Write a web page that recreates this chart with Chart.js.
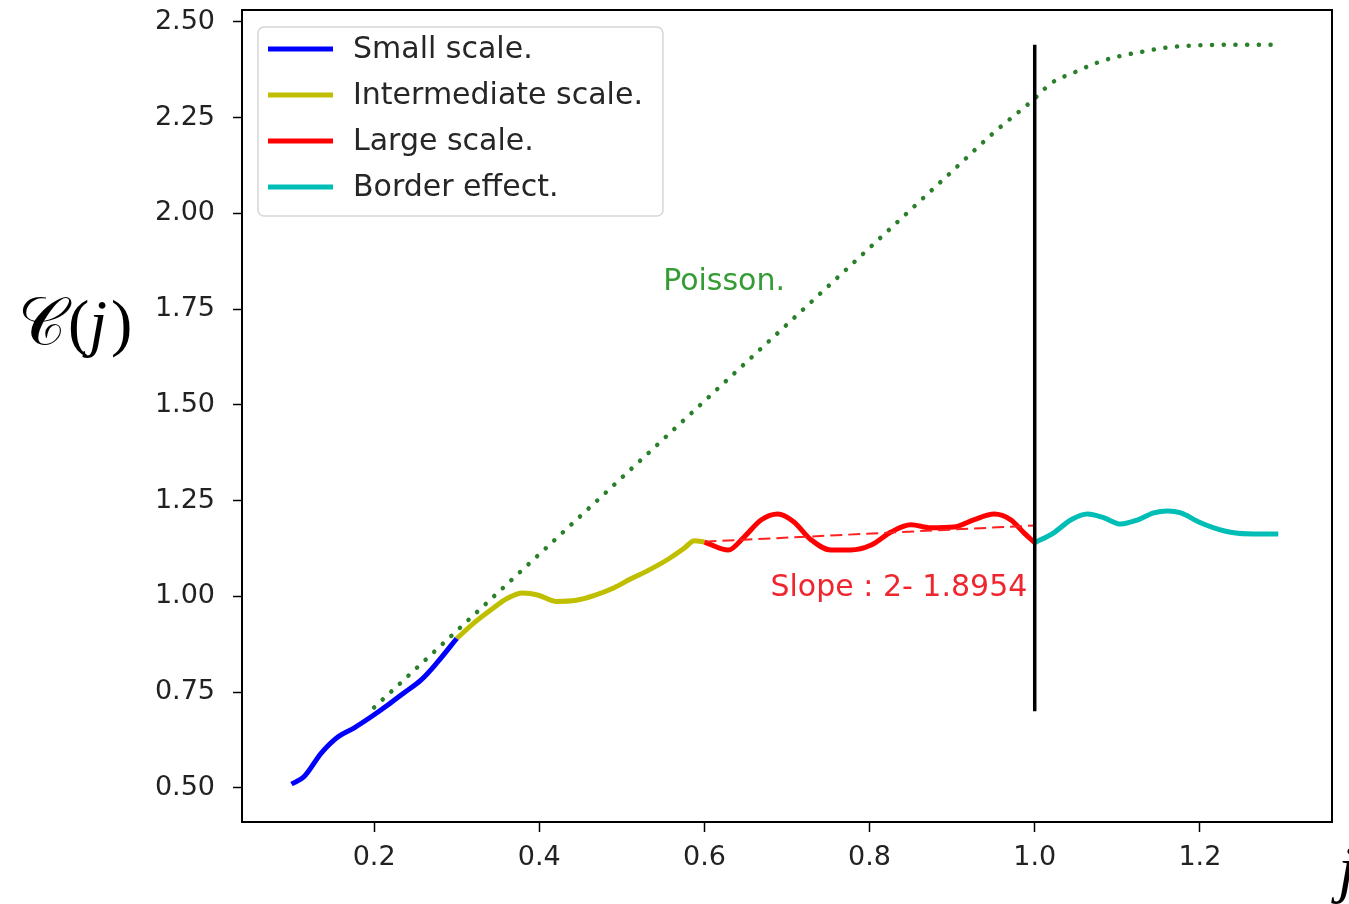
<!DOCTYPE html>
<html>
<head>
<meta charset="utf-8">
<title>C(j)</title>
<script src="https://cdn.jsdelivr.net/npm/chart.js@4.4.1/dist/chart.umd.min.js"></script>
<style>
  html, body { margin: 0; padding: 0; background: #fff; }
  canvas { display: block; }
</style>
</head>
<body>
<canvas id="cj" width="1349" height="904"></canvas>
<script>
// values
const smallX = [0.100, 0.115, 0.136, 0.156, 0.176, 0.196, 0.217, 0.236, 0.257, 0.277, 0.300];
const smallY = [0.510, 0.529, 0.591, 0.633, 0.657, 0.685, 0.717, 0.748, 0.782, 0.829, 0.890];

const interX = [0.300, 0.321, 0.342, 0.362, 0.380, 0.399, 0.420, 0.445, 0.466, 0.490, 0.511, 0.532, 0.556, 0.575, 0.588, 0.600];
const interY = [0.890, 0.931, 0.966, 0.996, 1.009, 1.003, 0.987, 0.990, 1.002, 1.022, 1.046, 1.068, 1.097, 1.125, 1.145, 1.142];

const largeX = [0.600, 0.629, 0.648, 0.669, 0.689, 0.708, 0.729, 0.753, 0.777, 0.802, 0.826, 0.850, 0.874, 0.902, 0.926, 0.951, 0.971, 0.987, 1.000];
const largeY = [1.142, 1.121, 1.155, 1.200, 1.215, 1.195, 1.148, 1.121, 1.121, 1.134, 1.168, 1.187, 1.179, 1.181, 1.200, 1.215, 1.200, 1.166, 1.140];

const borderX = [1.000, 1.023, 1.044, 1.064, 1.084, 1.104, 1.125, 1.144, 1.161, 1.177, 1.198, 1.217, 1.241, 1.265, 1.295];
const borderY = [1.140, 1.166, 1.200, 1.215, 1.205, 1.189, 1.200, 1.218, 1.223, 1.218, 1.195, 1.179, 1.166, 1.163, 1.163];

const poissonX = [0.20, 0.30, 0.40, 0.50, 0.60, 0.70, 0.80, 0.90, 0.95, 1.00, 1.02, 1.05, 1.075, 1.10, 1.13, 1.16, 1.19, 1.22, 1.25, 1.295];
const poissonY = [0.71, 0.91, 1.11, 1.31, 1.51, 1.71, 1.91, 2.11, 2.21, 2.30, 2.34, 2.37, 2.393, 2.409, 2.422, 2.433, 2.438, 2.440, 2.440, 2.440];

const fitX = [0.60, 1.00];
const fitY = [1.143, 1.185];

const vlineX = [1.00, 1.00];
const vlineY = [0.70, 2.44];

const xTicks = [0.2, 0.4, 0.6, 0.8, 1.0, 1.2];
const xTickLabels = ["0.2", "0.4", "0.6", "0.8", "1.0", "1.2"];
const yTicks = [0.5, 0.75, 1.0, 1.25, 1.5, 1.75, 2.0, 2.25, 2.5];
const yTickLabels = ["0.50", "0.75", "1.00", "1.25", "1.50", "1.75", "2.00", "2.25", "2.50"];

const legendLabels = ["Small scale.", "Intermediate scale.", "Large scale.", "Border effect."];
const poissonText = "Poisson.";
const slopeText = "Slope : 2- 1.8954";
const poissonAt = { x: 0.55, y: 1.80 };
const slopeAt = { x: 0.68, y: 1.00 };

const FONT = "'DejaVu Sans', 'Liberation Sans', sans-serif";
const SERIF = "'DejaVu Serif', 'Liberation Serif', serif";

function pts(xs, ys) {
  return xs.map((x, i) => ({ x: x, y: ys[i] }));
}

// full box round the axes, like matplotlib spines
const framePlugin = {
  id: "frame",
  afterDatasetsDraw(chart) {
    const { ctx, chartArea: a } = chart;
    ctx.save();
    ctx.strokeStyle = "#000";
    ctx.lineWidth = 2;
    ctx.strokeRect(a.left, a.top, a.right - a.left, a.bottom - a.top);
    ctx.restore();
  },
};

const textPlugin = {
  id: "texts",
  afterDatasetsDraw(chart) {
    const { ctx, scales } = chart;
    ctx.save();
    ctx.font = "30px " + FONT;
    ctx.textAlign = "left";
    ctx.textBaseline = "alphabetic";
    ctx.fillStyle = "#349c34";
    ctx.fillText(poissonText, scales.x.getPixelForValue(poissonAt.x), scales.y.getPixelForValue(poissonAt.y));
    ctx.fillStyle = "#f0262e";
    ctx.fillText(slopeText, scales.x.getPixelForValue(slopeAt.x), scales.y.getPixelForValue(slopeAt.y));
    ctx.restore();
  },
};

const legendPlugin = {
  id: "boxLegend",
  afterDraw(chart) {
    const { ctx, chartArea: a } = chart;
    const items = legendLabels.map((l) => chart.data.datasets.find((d) => d.label === l));
    ctx.save();
    ctx.font = "30px " + FONT;
    const textW = Math.max(...legendLabels.map((l) => ctx.measureText(l).width));
    const x0 = a.left + 16, y0 = a.top + 17;
    const w = 95 + textW + 20, h = 189;
    ctx.beginPath();
    ctx.roundRect(x0, y0, w, h, 6);
    ctx.fillStyle = "rgba(255,255,255,0.85)";
    ctx.fill();
    ctx.strokeStyle = "#d6d6d6";
    ctx.lineWidth = 1.5;
    ctx.stroke();
    items.forEach((d, i) => {
      const y = y0 + 22 + i * 46;
      ctx.beginPath();
      ctx.moveTo(x0 + 10, y);
      ctx.lineTo(x0 + 75, y);
      ctx.strokeStyle = d.borderColor;
      ctx.lineWidth = 5;
      ctx.stroke();
      ctx.fillStyle = "#262626";
      ctx.textBaseline = "middle";
      ctx.fillText(d.label, x0 + 95, y + 1);
    });
    ctx.restore();
  },
};

const axisLabelPlugin = {
  id: "axisLabels",
  afterDraw(chart) {
    const { ctx, chartArea: a } = chart;
    ctx.save();
    ctx.fillStyle = "#000";
    ctx.textBaseline = "alphabetic";
    ctx.textAlign = "left";
    // C(j): script C, upright brackets, italic j
    let x = a.left - 224;
    const base = 344;
    ctx.font = "66px " + SERIF;
    ctx.fillText("\u{1D49E}", x, base);
    x += ctx.measureText("\u{1D49E}").width + 2;
    ctx.font = "64px 'Liberation Serif', serif";
    ctx.fillText("(", x, base);
    x += ctx.measureText("(").width;
    ctx.font = "italic 64px 'Liberation Serif', serif";
    ctx.fillText("j", x, base);
    x += ctx.measureText("j").width + 4;
    ctx.font = "64px 'Liberation Serif', serif";
    ctx.fillText(")", x, base);
    // x label, mostly outside the canvas on the right
    ctx.font = "italic 64px 'Liberation Serif', serif";
    ctx.fillText("j", a.right + 6, a.bottom + 68);
    ctx.restore();
  },
};

const ctx = document.getElementById("cj").getContext("2d");
new Chart(ctx, {
  type: "line",
  data: {
    datasets: [
      { label: "vline", data: pts(vlineX, vlineY), borderColor: "#000", borderWidth: 3.5, tension: 0 },
      { label: "fit", data: pts(fitX, fitY), borderColor: "#ff2020", borderWidth: 2, borderDash: [12, 6], tension: 0 },
      { label: legendLabels[0], data: pts(smallX, smallY), borderColor: "#0000ff", borderWidth: 5, cubicInterpolationMode: "monotone" },
      { label: legendLabels[1], data: pts(interX, interY), borderColor: "#bfbf00", borderWidth: 5, cubicInterpolationMode: "monotone" },
      { label: legendLabels[2], data: pts(largeX, largeY), borderColor: "#ff0000", borderWidth: 5, cubicInterpolationMode: "monotone" },
      { label: legendLabels[3], data: pts(borderX, borderY), borderColor: "#00bdb5", borderWidth: 5, cubicInterpolationMode: "monotone" },
      {
        label: "Poisson", data: pts(poissonX, poissonY), borderColor: "#2a7f2a", borderWidth: 4.5,
        borderDash: [0.1, 11.6], borderCapStyle: "round", cubicInterpolationMode: "monotone",
      },
    ],
  },
  options: {
    responsive: false,
    animation: false,
    devicePixelRatio: 1,
    layout: { padding: { top: 10, right: 17, left: 0, bottom: 0 } },
    elements: { point: { radius: 0 } },
    plugins: { legend: { display: false }, tooltip: { enabled: false } },
    scales: {
      x: {
        type: "linear",
        min: 0.04,
        max: 1.36,
        afterFit: (s) => { s.height = 82; s.paddingLeft = 0; s.paddingRight = 0; },
        afterBuildTicks: (s) => { s.ticks = xTicks.map((v) => ({ value: v })); },
        grid: { drawOnChartArea: false, drawTicks: true, tickLength: 10, tickWidth: 1.5, tickColor: "#000" },
        border: { display: true, color: "#000", width: 2 },
        ticks: {
          padding: 10,
          maxRotation: 0,
          color: "#222",
          font: { family: FONT, size: 27 },
          callback: (v, i) => xTickLabels[i],
        },
      },
      y: {
        type: "linear",
        min: 0.411,
        max: 2.531,
        afterFit: (s) => { s.width = 242; s.paddingTop = 0; s.paddingBottom = 0; },
        afterBuildTicks: (s) => { s.ticks = yTicks.map((v) => ({ value: v })); },
        grid: { drawOnChartArea: false, drawTicks: true, tickLength: 9, tickWidth: 1.5, tickColor: "#000" },
        border: { display: true, color: "#000", width: 2 },
        ticks: {
          padding: 18,
          color: "#222",
          font: { family: FONT, size: 27 },
          callback: (v, i) => yTickLabels[i],
        },
      },
    },
  },
  plugins: [framePlugin, textPlugin, legendPlugin, axisLabelPlugin],
});
</script>
</body>
</html>
